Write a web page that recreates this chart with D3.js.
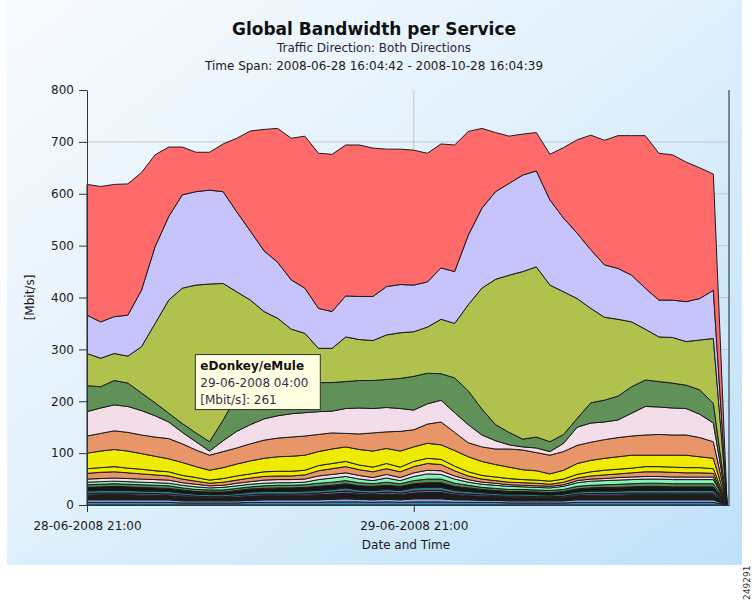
<!DOCTYPE html>
<html>
<head>
<meta charset="utf-8">
<script src="https://cdn.jsdelivr.net/npm/d3@7"></script>
<style>
  body { margin: 0; background: #fff; }
  svg { display: block; font-family: "DejaVu Sans", sans-serif; }
</style>
</head>
<body>
<div id="chart"></div>
<script>
// hourly samples, first one at 28-06-2008 21:00
const startTime = new Date(2008, 5, 28, 21, 0);
const tickTimes = [new Date(2008, 5, 28, 21, 0), new Date(2008, 5, 29, 21, 0)];
const yTicks = [0, 100, 200, 300, 400, 500, 600, 700, 800];

// stacked bottom -> top
const services = ["s01", "s02", "s03", "s04", "s05", "s06", "s07", "s08", "s09", "s10",
  "s11", "s12", "s13", "s14", "s15", "eDonkey/eMule", "s17", "s18"];
const colors = ["#1e8fd6", "#a99fcb", "#1b1b1b", "#7b5ea7", "#2f7d8c", "#141414", "#5a8a5a", "#84f4b5",
  "#f3dce9", "#e9956a", "#eeea00", "#eeea00", "#e9956a", "#f3dde9", "#5f9159", "#b0c24d", "#c7c3fb", "#ff6b6b"];

const s01 = [5,5,5,5,5,5,5,4,4,4,4,4,5,5,5,5,5,5,6,6,6,5,6,5,6,6,6,5,5,5,5,4,4,4,4,4,5,5,5,5,5,5,5,5,5,5,5,0.2];
const s02 = [5,5,5,5,5,5,5,4,4,4,4,4,4,5,5,5,5,5,5,6,5,5,5,5,6,6,6,5,5,4,4,4,4,4,4,4,5,5,5,5,5,5,5,5,5,5,5,0.2];
const s03 = [9,10,10,10,9,9,8,8,7,6,6,7,8,8,8,8,9,10,10,11,10,10,10,10,11,12,12,10,8,8,7,7,7,6,6,7,8,9,9,9,10,10,10,10,10,10,10,0.2];
const s04 = [3,3,3,3,3,3,3,3,2,2,2,3,3,3,3,3,3,3,4,4,3,3,4,3,4,4,4,3,3,3,2,2,2,2,2,2,3,3,3,3,3,3,3,3,3,3,3,0.2];
const s05 = [5,5,5,5,5,5,5,4,4,4,4,4,5,5,5,5,5,5,5,6,5,5,5,5,6,6,6,5,5,4,4,4,4,4,3,4,4,5,5,5,5,5,5,5,5,5,5,0.2];
const s06 = [7,7,8,7,7,6,6,6,5,5,5,6,6,6,7,7,7,8,8,8,8,8,8,8,8,9,9,8,7,6,6,5,5,5,5,5,6,6,7,7,7,8,8,7,7,7,7,0.2];
const s07 = [5,5,5,5,5,5,5,4,4,4,4,4,4,5,5,5,5,6,6,6,6,5,6,5,6,7,7,6,5,4,4,4,4,4,4,4,5,5,5,6,6,6,6,6,6,6,6,0.2];
const s08 = [5,5,5,5,5,5,5,5,5,4,5,5,5,5,5,5,5,7,8,8,7,6,8,6,8,10,9,8,6,6,6,6,5,5,5,6,7,8,8,8,8,8,8,8,8,8,8,0.2];
const s09 = [6,6,6,6,6,6,6,5,5,4,4,5,5,6,6,6,6,7,7,7,7,6,7,6,7,7,7,6,5,4,4,3,3,3,3,3,4,4,4,5,5,5,5,5,5,5,5,0.2];
const s10 = [11,12,12,11,10,9,8,7,6,5,6,6,7,7,7,7,8,10,11,12,11,11,11,11,12,13,12,10,7,6,5,5,5,5,4,5,5,6,7,7,8,9,9,9,8,8,7,0.2];
const s11 = [9,9,10,9,9,8,8,7,7,6,7,8,8,9,9,9,9,10,10,10,9,9,10,9,10,10,10,9,8,7,7,7,6,6,6,6,7,8,9,9,9,10,10,10,10,10,9,0.3];
const s12 = [30,32,33,33,30,28,25,25,21,19,21,23,25,26,28,29,29,27,28,28,30,31,29,31,28,29,28,30,29,27,24,22,19,18,14,17,21,22,23,24,25,22,22,23,24,21,20,0.5];
const s13 = [33,34,36,36,36,37,39,36,32,29,31,31,33,35,36,37,37,33,31,26,30,35,32,38,33,37,44,35,27,28,30,35,38,35,36,36,35,35,36,37,37,39,40,39,39,37,32,0.5];
const s14 = [47,49,50,50,47,41,32,22,16,8,21,32,37,41,43,45,45,44,42,48,50,47,47,44,38,39,42,38,35,23,16,8,6,9,7,16,35,37,34,34,44,55,53,52,51,45,36,0.5];
const s15 = [50,41,47,45,34,25,17,17,17,18,40,68,85,70,64,60,59,56,55,52,53,54,54,58,65,59,51,67,65,50,31,24,15,21,19,17,17,39,42,46,51,51,49,48,45,47,38,0.5];
const eDonkey = [62,55,52,52,89,153,218,261,285,304,263,201,155,137,124,103,94,66,66,86,79,77,86,88,86,89,105,105,166,233,280,303,323,328,302,275,231,182,160,148,125,98,86,88,84,96,125,1];
const s17 = [74,70,71,79,109,148,161,180,180,181,177,154,133,117,108,95,87,77,71,79,83,85,93,93,90,87,99,100,134,154,169,177,186,185,164,142,126,113,101,98,90,79,71,72,77,80,93,1];
const s18 = [252,261,255,253,227,177,134,92,76,73,92,142,193,234,258,273,293,299,303,291,292,286,265,261,260,248,239,244,200,154,114,91,79,74,88,136,180,221,240,256,269,294,283,280,269,252,224,2];

const seriesValues = [s01, s02, s03, s04, s05, s06, s07, s08, s09, s10, s11, s12, s13, s14, s15, eDonkey, s17, s18];

const tooltipLines = ["eDonkey/eMule", "29-06-2008 04:00", "[Mbit/s]: 261"];
const tooltipIndex = 7;

const rows = s01.map((v, i) => {
  const row = { time: d3.timeHour.offset(startTime, i) };
  services.forEach((k, j) => { row[k] = seriesValues[j][i]; });
  return row;
});

const width = 752, height = 605;
const plot = { left: 87, right: 729, top: 90, bottom: 505 };

const svg = d3.select("#chart").append("svg")
  .attr("width", width)
  .attr("height", height);

const defs = svg.append("defs");
const bgGrad = defs.append("linearGradient")
  .attr("id", "bg")
  .attr("x1", "0").attr("y1", "0")
  .attr("x2", "1").attr("y2", "1");
bgGrad.append("stop").attr("offset", "0%").attr("stop-color", "#f8fbfe");
bgGrad.append("stop").attr("offset", "45%").attr("stop-color", "#e2f1fc");
bgGrad.append("stop").attr("offset", "100%").attr("stop-color", "#bfe1fa");

svg.append("rect")
  .attr("x", 7).attr("y", 0)
  .attr("width", 735).attr("height", 565)
  .attr("fill", "url(#bg)");

const x = d3.scaleTime()
  .domain([startTime, d3.timeMinute.offset(startTime, 2829)])
  .range([plot.left, plot.right]);

const y = d3.scaleLinear()
  .domain([0, 800])
  .range([plot.bottom, plot.top]);

// grid
svg.append("g")
  .selectAll("line")
  .data(yTicks.filter(t => t > 0 && t < 800))
  .enter().append("line")
  .attr("x1", plot.left).attr("x2", plot.right)
  .attr("y1", d => y(d)).attr("y2", d => y(d))
  .style("stroke", "#c4c8cc")
  .style("stroke-width", 1);

svg.append("g")
  .selectAll("line")
  .data(tickTimes.slice(1))
  .enter().append("line")
  .attr("x1", d => x(d)).attr("x2", d => x(d))
  .attr("y1", plot.top).attr("y2", plot.bottom)
  .style("stroke", "#c4c8cc")
  .style("stroke-width", 1);

const stack = d3.stack().keys(services);
const layers = stack(rows);

const area = d3.area()
  .x(d => x(d.data.time))
  .y0(d => y(d[0]))
  .y1(d => y(d[1]));

svg.append("g")
  .selectAll("path")
  .data(layers)
  .enter().append("path")
  .attr("d", area)
  .style("fill", (d, i) => colors[i])
  .style("stroke", "#1c1c1c")
  .style("stroke-width", 1)
  .style("stroke-linejoin", "round");

// right frame
svg.append("line")
  .attr("x1", plot.right).attr("x2", plot.right)
  .attr("y1", plot.top).attr("y2", plot.bottom)
  .style("stroke", "#222")
  .style("stroke-width", 1);

// axes
const yAxis = svg.append("g")
  .attr("transform", "translate(" + plot.left + ",0)")
  .call(d3.axisLeft(y).tickValues(yTicks).tickSize(8).tickSizeOuter(0).tickPadding(5));

const xAxis = svg.append("g")
  .attr("transform", "translate(0," + plot.bottom + ")")
  .call(d3.axisBottom(x).tickValues(tickTimes).tickSize(7).tickSizeOuter(0).tickPadding(9)
    .tickFormat(d3.timeFormat("%d-%m-%Y %H:%M")));

[yAxis, xAxis].forEach(g => {
  g.attr("font-family", "DejaVu Sans, sans-serif").attr("font-size", 12);
  g.selectAll("path, line").style("stroke", "#333");
  g.selectAll("text").style("fill", "#1a1a1a");
});

svg.append("text")
  .attr("transform", "translate(34," + ((plot.top + plot.bottom) / 2) + ") rotate(-90)")
  .attr("text-anchor", "middle")
  .style("font-size", "12px")
  .style("fill", "#1a1a1a")
  .text("[Mbit/s]");

svg.append("text")
  .attr("x", (plot.left + plot.right) / 2 - 2)
  .attr("y", 549)
  .attr("text-anchor", "middle")
  .style("font-size", "12px")
  .style("fill", "#1a1a1a")
  .text("Date and Time");

// titles
svg.append("text")
  .attr("x", 374).attr("y", 35)
  .attr("text-anchor", "middle")
  .style("font-size", "17px")
  .style("font-weight", "bold")
  .style("fill", "#111")
  .text("Global Bandwidth per Service");

svg.append("text")
  .attr("x", 374).attr("y", 52)
  .attr("text-anchor", "middle")
  .style("font-size", "12px")
  .style("fill", "#2a1d3c")
  .text("Traffic Direction: Both Directions");

svg.append("text")
  .attr("x", 374).attr("y", 70)
  .attr("text-anchor", "middle")
  .style("font-size", "12px")
  .style("fill", "#1a1a1a")
  .text("Time Span: 2008-06-28 16:04:42 - 2008-10-28 16:04:39");

// tooltip
const tipX = x(rows[tooltipIndex].time) + 13;
const tipY = y(290);
const tip = svg.append("g").attr("transform", "translate(" + tipX + "," + tipY + ")");
tip.append("rect")
  .attr("width", 125).attr("height", 55)
  .style("fill", "#ffffe1")
  .style("stroke", "#333")
  .style("stroke-width", 1);
tip.selectAll("text")
  .data(tooltipLines)
  .enter().append("text")
  .attr("x", 5)
  .attr("y", (d, i) => 15 + i * 17)
  .style("font-size", "12px")
  .style("font-weight", (d, i) => i === 0 ? "bold" : "normal")
  .style("fill", (d, i) => i === 0 ? "#111" : "#3a2a55")
  .text(d => d);

// side id
svg.append("text")
  .attr("transform", "translate(750,600) rotate(-90)")
  .style("font-size", "9px")
  .style("fill", "#333")
  .text("249291");
</script>
</body>
</html>
